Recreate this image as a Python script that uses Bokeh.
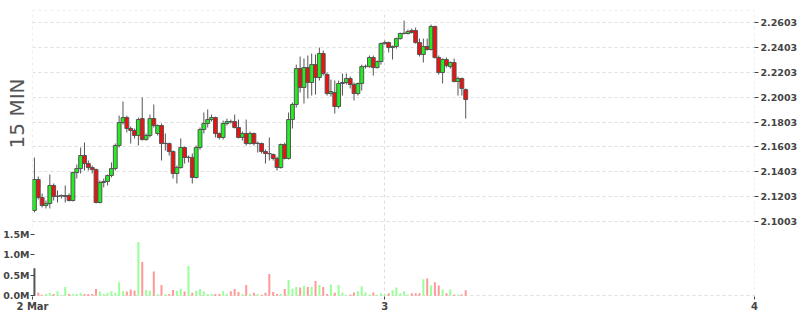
import pandas as pd
from bokeh.plotting import figure
from bokeh.layouts import column
from bokeh.models import (FixedTicker, PrintfTickFormatter, Title, ColumnDataSource,
                          Range1d, Grid)
from bokeh.embed import file_html
from bokeh.resources import INLINE

# ---------------- data ----------------
FIRST_CANDLE = "2021-03-02 01:15"
CANDLE_MINUTES = 15
DAY_TICKS = ["2021-03-03", "2021-03-04"]
DAY_LABELS = ["2 Mar", "3", "4"]
PRICE_TICKS = [2.1003, 2.1203, 2.1403, 2.1603, 2.1803, 2.2003, 2.2203, 2.2403, 2.2603]
VOLUME_TICKS = [0.0, 0.5, 1.0, 1.5]
Y_LABEL = "15 MIN"

OPEN = [2.1092, 2.1341, 2.1196, 2.1132, 2.1148, 2.1293, 2.1204, 2.1208, 2.1204, 2.1212,
        2.1172, 2.1397, 2.1429, 2.1534, 2.1469, 2.1437, 2.1421, 2.1156, 2.1317, 2.1325,
        2.1373, 2.1429, 2.1614, 2.1799, 2.1839, 2.1751, 2.1735, 2.1695, 2.1831, 2.1662,
        2.1695, 2.1831, 2.1711, 2.1775, 2.1630, 2.1630, 2.1566, 2.1389, 2.1437, 2.1598,
        2.1518, 2.1518, 2.1357, 2.1598, 2.1743, 2.1791, 2.1823, 2.1839, 2.1711, 2.1679,
        2.1791, 2.1807, 2.1807, 2.1759, 2.1679, 2.1711, 2.1630, 2.1711, 2.1630, 2.1630,
        2.1566, 2.1550, 2.1542, 2.1510, 2.1437, 2.1622, 2.1510, 2.1823, 2.1944, 2.2233,
        2.2081, 2.2241, 2.2121, 2.2265, 2.2161, 2.2354, 2.2185, 2.2032, 2.2040, 2.1928,
        2.2113, 2.2121, 2.2153, 2.2105, 2.2032, 2.2113, 2.2249, 2.2249, 2.2322, 2.2241,
        2.2290, 2.2434, 2.2442, 2.2402, 2.2410, 2.2474, 2.2515, 2.2515, 2.2539, 2.2539,
        2.2442, 2.2346, 2.2410, 2.2386, 2.2571, 2.2322, 2.2201, 2.2306, 2.2249, 2.2282,
        2.2129, 2.2153, 2.2064]
CLOSE = [2.1341, 2.1196, 2.1132, 2.1148, 2.1293, 2.1204, 2.1208, 2.1212, 2.1212, 2.1172,
         2.1397, 2.1429, 2.1534, 2.1469, 2.1437, 2.1421, 2.1156, 2.1317, 2.1325, 2.1373,
         2.1429, 2.1614, 2.1799, 2.1839, 2.1751, 2.1735, 2.1695, 2.1823, 2.1662, 2.1695,
         2.1831, 2.1775, 2.1775, 2.1630, 2.1632, 2.1566, 2.1389, 2.1437, 2.1598, 2.1518,
         2.1520, 2.1357, 2.1598, 2.1743, 2.1791, 2.1823, 2.1839, 2.1711, 2.1679, 2.1791,
         2.1807, 2.1805, 2.1759, 2.1679, 2.1711, 2.1630, 2.1711, 2.1630, 2.1632, 2.1566,
         2.1550, 2.1548, 2.1510, 2.1437, 2.1622, 2.1510, 2.1823, 2.1944, 2.2233, 2.2081,
         2.2241, 2.2121, 2.2265, 2.2161, 2.2354, 2.2193, 2.2032, 2.2048, 2.1928, 2.2113,
         2.2121, 2.2153, 2.2105, 2.2032, 2.2113, 2.2249, 2.2251, 2.2322, 2.2241, 2.2290,
         2.2434, 2.2442, 2.2402, 2.2410, 2.2474, 2.2515, 2.2517, 2.2531, 2.2523, 2.2442,
         2.2346, 2.2410, 2.2386, 2.2571, 2.2322, 2.2201, 2.2306, 2.2257, 2.2282, 2.2129,
         2.2153, 2.2073, 2.1984]
HIGH = [2.1518, 2.1365, 2.1228, 2.1172, 2.1381, 2.1309, 2.1252, 2.1220, 2.1293, 2.1228,
        2.1405, 2.1461, 2.1598, 2.1638, 2.1494, 2.1453, 2.1429, 2.1333, 2.1349, 2.1381,
        2.1478, 2.1630, 2.1855, 2.1968, 2.1855, 2.1767, 2.1751, 2.1839, 2.2000, 2.1711,
        2.1863, 2.1944, 2.1783, 2.1791, 2.1711, 2.1638, 2.1574, 2.1453, 2.1671, 2.1606,
        2.1534, 2.1550, 2.1614, 2.1759, 2.1880, 2.1904, 2.1863, 2.1847, 2.1719, 2.1815,
        2.1831, 2.1823, 2.1863, 2.1823, 2.1727, 2.1823, 2.1727, 2.1719, 2.1646, 2.1638,
        2.1582, 2.1679, 2.1550, 2.1526, 2.1630, 2.1638, 2.1880, 2.1960, 2.2265, 2.2330,
        2.2314, 2.2338, 2.2354, 2.2346, 2.2402, 2.2378, 2.2201, 2.2145, 2.2137, 2.2137,
        2.2193, 2.2193, 2.2169, 2.2121, 2.2121, 2.2265, 2.2265, 2.2338, 2.2338, 2.2298,
        2.2442, 2.2458, 2.2450, 2.2418, 2.2482, 2.2523, 2.2619, 2.2547, 2.2555, 2.2563,
        2.2474, 2.2474, 2.2474, 2.2587, 2.2579, 2.2338, 2.2314, 2.2322, 2.2290, 2.2314,
        2.2169, 2.2161, 2.2073]
LOW = [2.1076, 2.1180, 2.1116, 2.1108, 2.1108, 2.1172, 2.1156, 2.1188, 2.1156, 2.1164,
       2.1164, 2.1349, 2.1389, 2.1413, 2.1413, 2.1389, 2.1148, 2.1148, 2.1277, 2.1293,
       2.1357, 2.1413, 2.1598, 2.1783, 2.1719, 2.1630, 2.1671, 2.1614, 2.1654, 2.1654,
       2.1679, 2.1759, 2.1695, 2.1494, 2.1574, 2.1534, 2.1349, 2.1309, 2.1429, 2.1469,
       2.1478, 2.1309, 2.1349, 2.1582, 2.1711, 2.1759, 2.1807, 2.1679, 2.1662, 2.1662,
       2.1775, 2.1791, 2.1751, 2.1671, 2.1654, 2.1614, 2.1622, 2.1614, 2.1558, 2.1550,
       2.1469, 2.1494, 2.1494, 2.1413, 2.1429, 2.1502, 2.1502, 2.1751, 2.1920, 2.2040,
       2.1952, 2.1992, 2.2016, 2.2024, 2.2137, 2.2177, 2.2016, 2.2008, 2.1871, 2.1912,
       2.2016, 2.2105, 2.2073, 2.1976, 2.2016, 2.2056, 2.2233, 2.2241, 2.2177, 2.2233,
       2.2265, 2.2426, 2.2362, 2.2306, 2.2394, 2.2466, 2.2507, 2.2507, 2.2515, 2.2434,
       2.2330, 2.2282, 2.2378, 2.2378, 2.2314, 2.2185, 2.2113, 2.2241, 2.2233, 2.2121,
       2.2016, 2.2016, 2.1831]
# volume in millions
VOLUME = [0.67, 0.08, 0.02, 0.04, 0.07, 0.04, 0.11, 0.02, 0.21, 0.04,
          0.04, 0.04, 0.07, 0.04, 0.04, 0.04, 0.16, 0.10, 0.04, 0.07,
          0.11, 0.07, 0.33, 0.11, 0.10, 0.15, 0.12, 1.31, 0.82, 0.14,
          0.12, 0.59, 0.04, 0.26, 0.04, 0.04, 0.14, 0.12, 0.16, 0.10,
          0.72, 0.07, 0.12, 0.16, 0.10, 0.04, 0.04, 0.04, 0.04, 0.11,
          0.05, 0.11, 0.16, 0.09, 0.04, 0.26, 0.04, 0.07, 0.04, 0.02,
          0.07, 0.53, 0.09, 0.04, 0.04, 0.16, 0.38, 0.17, 0.21, 0.20,
          0.24, 0.21, 0.21, 0.36, 0.26, 0.21, 0.04, 0.27, 0.07, 0.26,
          0.08, 0.01, 0.03, 0.08, 0.11, 0.23, 0.08, 0.03, 0.08, 0.02,
          0.06, 0.03, 0.06, 0.13, 0.20, 0.06, 0.11, 0.03, 0.06, 0.06,
          0.06, 0.40, 0.42, 0.25, 0.33, 0.25, 0.15, 0.06, 0.15, 0.03,
          0.03, 0.03, 0.13]

# ---------------- styling ----------------
UP, DOWN, EDGE = "#22ee22", "#ee1111", "#555555"
VUP, VDOWN = "#99ff99", "#ff9999"
GRID = "#dddddd"
TXT = "#444444"
FONT = "DejaVu Sans"
BORDER_L, BORDER_R = 31, 43


def ms(ts):
    return int(pd.Timestamp(ts).value // 10**6)


def style_axis(a, tick_in, tick_out, standoff, size):
    a.axis_line_color = None
    a.major_tick_in = tick_in
    a.major_tick_out = tick_out
    a.major_tick_line_color = TXT
    a.minor_tick_line_color = None
    a.major_label_standoff = standoff
    a.major_label_text_font = FONT
    a.major_label_text_font_size = size
    a.major_label_text_font_style = "bold"
    a.major_label_text_color = TXT


def dashed_grid(dim, ticks):
    return Grid(dimension=dim, ticker=FixedTicker(ticks=ticks),
                grid_line_color=GRID, grid_line_dash="3 3")


step = CANDLE_MINUTES * 60 * 1000
t0 = ms(FIRST_CANDLE)
xs = [t0 + i * step for i in range(len(OPEN))]
x_start = t0 - step // 2
day_ticks = [x_start] + [ms(d) for d in DAY_TICKS]
x_end = day_ticks[-1]

up = [c >= o for o, c in zip(OPEN, CLOSE)]
src = ColumnDataSource(dict(
    x=xs, high=HIGH, low=LOW,
    top=[max(o, c) for o, c in zip(OPEN, CLOSE)],
    bottom=[min(o, c) for o, c in zip(OPEN, CLOSE)],
    color=[UP if u else DOWN for u in up],
    vol=VOLUME,
    vcolor=[EDGE if i == 0 else (VUP if u else VDOWN) for i, u in enumerate(up)],
))

xr = Range1d(x_start, x_end)
PRICE_HI = 2.2700
PRICE_LO = 2.0955   # a few px below the 2.1003 line so its label is not cut

# ---------------- price panel ----------------
p = figure(width=800, height=227, x_range=xr, y_range=Range1d(PRICE_LO, PRICE_HI),
           output_backend="svg", toolbar_location=None,
           x_axis_location=None, y_axis_location="right",
           min_border_left=BORDER_L, min_border_right=BORDER_R,
           min_border_top=10, min_border_bottom=0)
p.background_fill_color = "white"
p.border_fill_color = "white"
p.outline_line_color = None
p.grid.grid_line_color = None
p.add_layout(dashed_grid(1, PRICE_TICKS + [PRICE_HI - 0.0004]))
p.add_layout(dashed_grid(0, [x_start + step // 8, day_ticks[1], x_end - step // 8]))

ax = p.yaxis[0]
ax.ticker = FixedTicker(ticks=PRICE_TICKS)
ax.formatter = PrintfTickFormatter(format="%.4f")
style_axis(ax, 0, 4, 2, "9.5px")

p.add_layout(Title(text=Y_LABEL, align="right", offset=68, vertical_align="middle",
                   text_font=FONT, text_font_size="20px", text_font_style="normal",
                   text_color="#555555", standoff=6), "left")

p.segment(x0="x", y0="high", x1="x", y1="low", source=src, line_color=EDGE, line_width=1)
p.vbar(x="x", width=step, top="top", bottom="bottom", source=src,
       fill_color="color", line_color=EDGE, line_width=1)

# ---------------- volume panel ----------------
v = figure(width=800, height=88, x_range=xr, y_range=Range1d(-0.02, 1.66),
           output_backend="svg", toolbar_location=None,
           min_border_left=BORDER_L, min_border_right=BORDER_R,
           min_border_top=0, min_border_bottom=19)
v.background_fill_color = "white"
v.border_fill_color = "white"
v.outline_line_color = None
v.grid.grid_line_color = None
v.add_layout(dashed_grid(0, [day_ticks[1], x_end - step // 8]))
v.add_layout(dashed_grid(1, [0.0]))

vy = v.yaxis[0]
vy.ticker = FixedTicker(ticks=VOLUME_TICKS)
vy.formatter = PrintfTickFormatter(format="%.1fM")
style_axis(vy, 2, 2, 1, "9.5px")

vx = v.xaxis[0]
vx.ticker = FixedTicker(ticks=day_ticks)
vx.major_label_overrides = {t: lab for t, lab in zip(day_ticks, DAY_LABELS)}
style_axis(vx, 0, 3, 1, "10px")

v.vbar(x="x", width=step * 0.52, top="vol", bottom=0, source=src,
       fill_color="vcolor", line_color=None)

layout = column(p, v, spacing=0)
open("out.html", "w").write(file_html(layout, INLINE))
